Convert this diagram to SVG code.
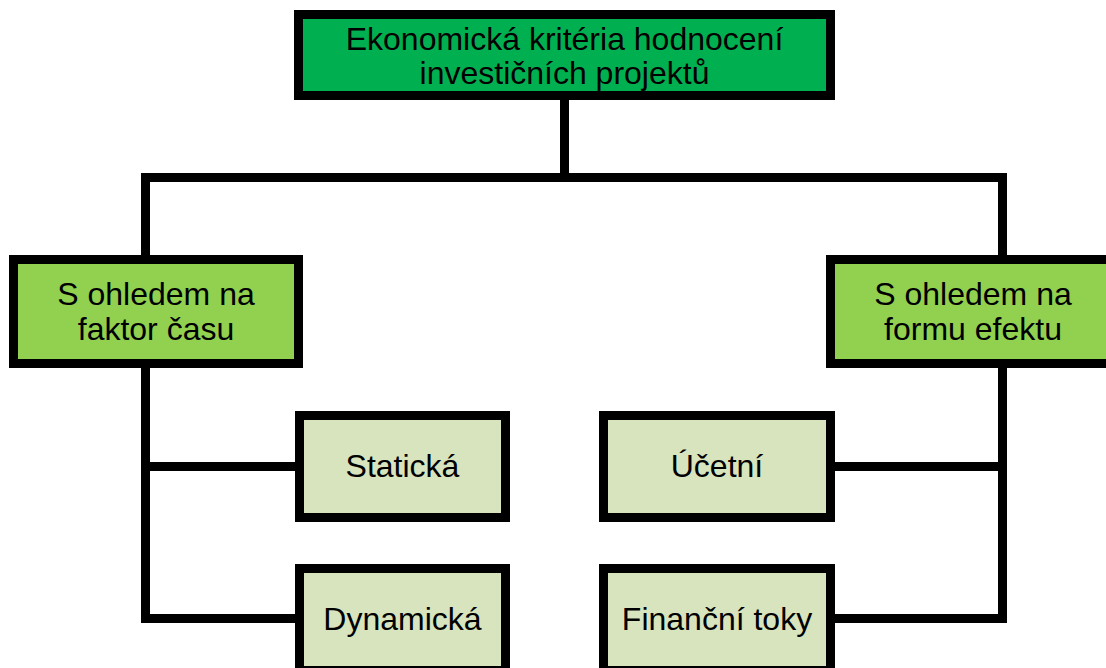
<svg xmlns="http://www.w3.org/2000/svg" width="1106" height="668" viewBox="0 0 1106 668">
<style>
.box{stroke:#000;stroke-width:9}
.l1{fill:#00B050}
.l2{fill:#92D050}
.l3{fill:#D7E4BD}
text{font-family:"Liberation Sans",Arial,sans-serif;font-size:32px;fill:#000;text-anchor:middle}
.conn{fill:none;stroke:#000;stroke-width:9;stroke-linejoin:miter}
</style>
<rect width="1106" height="668" fill="#fff"/>
<g id="connectors">
<path class="conn" d="M564.5,100 V177.5"/>
<path class="conn" d="M145.5,255 V177.5 H1002.5 V255"/>
<path class="conn" d="M145.5,368 V618.5 H295"/>
<path class="conn" d="M145.5,466.5 H295"/>
<path class="conn" d="M1002.5,368 V618.5 H835"/>
<path class="conn" d="M1002.5,466.5 H835"/>
</g>
<g id="root">
<rect class="box l1" x="298.5" y="14.5" width="532" height="81"/>
<text x="564.5" y="50">Ekonomická kritéria hodnocení</text>
<text x="564.5" y="84">investičních projektů</text>
</g>
<g id="time">
<rect class="box l2" x="13.5" y="259.5" width="285" height="104"/>
<text x="156" y="305">S ohledem na</text>
<text x="156" y="340">faktor času</text>
</g>
<g id="effect">
<rect class="box l2" x="830.5" y="259.5" width="285" height="104"/>
<text x="973" y="305">S ohledem na</text>
<text x="973" y="340">formu efektu</text>
</g>
<g id="static">
<rect class="box l3" x="299.5" y="415.5" width="206" height="102"/>
<text x="402.5" y="477">Statická</text>
</g>
<g id="dynamic">
<rect class="box l3" x="299.5" y="568.5" width="206" height="102"/>
<text x="402.5" y="630">Dynamická</text>
</g>
<g id="accounting">
<rect class="box l3" x="603.5" y="415.5" width="227" height="102"/>
<text x="717" y="477">Účetní</text>
</g>
<g id="cashflow">
<rect class="box l3" x="603.5" y="568.5" width="227" height="102"/>
<text x="717" y="630">Finanční toky</text>
</g>
</svg>
